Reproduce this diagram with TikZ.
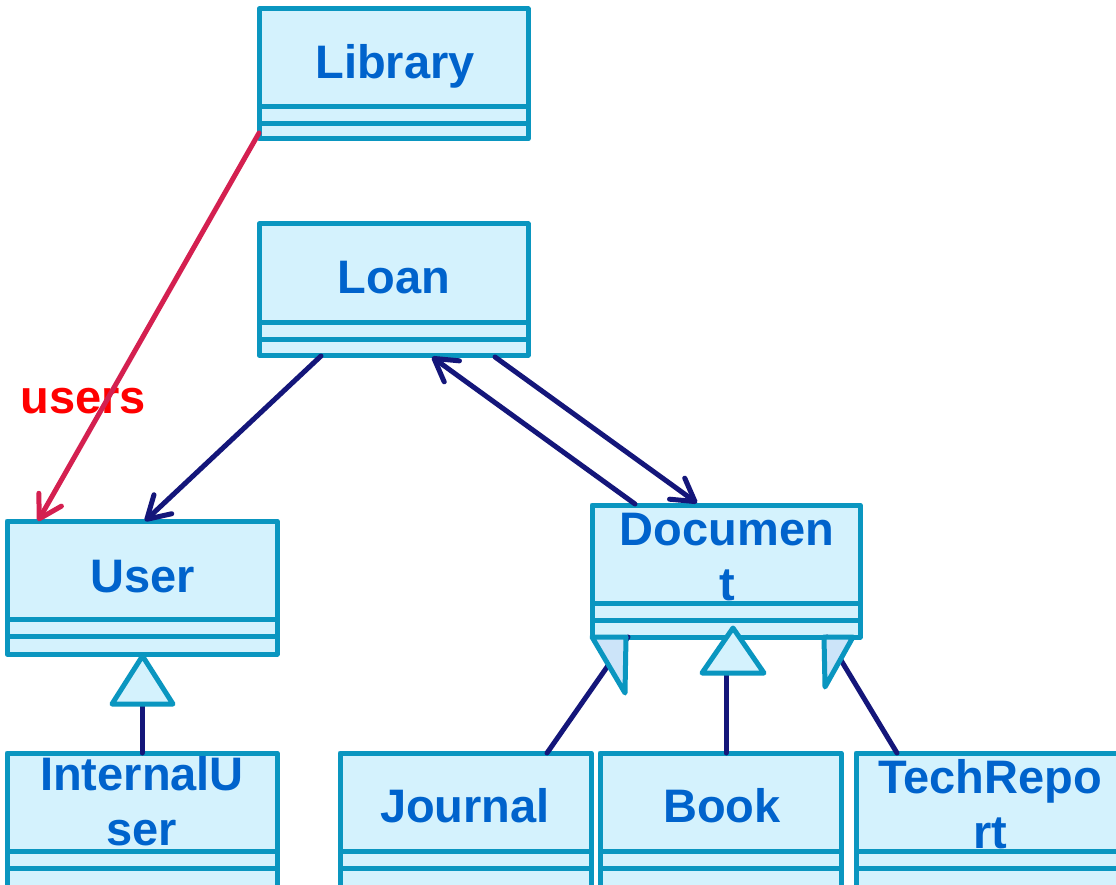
\documentclass[tikz,border=0pt]{standalone}
\usepackage{fontspec}
\setmainfont{Liberation Sans}
\usetikzlibrary{arrows.meta,calc}

\definecolor{clsfill}{HTML}{D4F2FD}
\definecolor{clsline}{HTML}{0A96C0}
\definecolor{clstext}{HTML}{0063CC}
\definecolor{assoc}{HTML}{14167A}
\definecolor{navlink}{HTML}{D42050}
\definecolor{rolered}{HTML}{FF0000}
\definecolor{genfill}{HTML}{CCE4F9}

% two empty compartments (attributes, operations) under the class name
\newcommand\compartments[1]{%
  \draw[sepline] ($(#1.north west)+(0,98)$) -- ($(#1.north east)+(0,98)$);
  \draw[sepline] ($(#1.north west)+(0,115)$) -- ($(#1.north east)+(0,115)$);}

\begin{document}
\begin{tikzpicture}[x=1pt,y=-1pt,
  clsbox/.style={rectangle, draw=clsline, fill=clsfill, line width=5pt,
    line join=round, inner sep=0pt, outer sep=0pt},
  clsname/.style={text=clstext, font=\fontsize{47}{55}\selectfont\bfseries,
    inner sep=0pt, anchor=base, align=center},
  sepline/.style={draw=clsline, line width=5pt},
  assocline/.style={draw=assoc, line width=5pt, line cap=round},
  openhead/.style={-{Straight Barb[length=22pt,width=26pt,round]}},
  gentri/.style={draw=clsline, line width=5pt, line join=round},
]
\clip (0,0) rectangle (1116,885);
\fill[white] (0,0) rectangle (1116,885);

% class boxes
\node[clsbox, minimum width=269, minimum height=130] (lib)   at (393.5,74)  {};
\node[clsbox, minimum width=269, minimum height=131] (loan)  at (393.5,289.5) {};
\node[clsbox, minimum width=270, minimum height=133] (user)  at (142,587.5) {};
\node[clsbox, minimum width=268, minimum height=132] (doc)   at (726,571)   {};
\node[clsbox, minimum width=270, minimum height=152] (iuser) at (142,829)   {};
\node[clsbox, minimum width=251, minimum height=152] (journal) at (465.5,829) {};
\node[clsbox, minimum width=241, minimum height=152] (book)  at (720.5,829) {};
\node[clsbox, minimum width=269, minimum height=152] (tech)  at (990.5,829) {};

\compartments{lib}
\compartments{loan}
\compartments{user}
\compartments{doc}
\compartments{iuser}
\compartments{journal}
\compartments{book}
\compartments{tech}

% class names (multi-line names are placed by their last baseline)
\node[clsname] (libname)   at (395,79)  {Library};
\node[clsname] (loanname)  at (394,294) {Loan};
\node[clsname] (username)  at (143,592) {User};
\node[clsname] (docname)   at (727,600) {Documen\\t};
\node[clsname] (iusername) at (142,845) {InternalU\\ser};
\node[clsname] (jname)     at (465,822) {Journal};
\node[clsname] (bookname)  at (722,822) {Book};
\node[clsname] (techname)  at (990,848) {TechRepo\\rt};

% role name of the Library-User association
\node[text=rolered, font=\fontsize{47}{55}\selectfont\bfseries, inner sep=0pt,
  anchor=base] (userslabel) at (83,413) {users};

% associations
\draw[assocline, draw=navlink, openhead]
  ($(lib.south west)+(0,-6)$) -- ($(user.north west)+(31,0)$);
\draw[assocline, openhead]
  ($(loan.south west)+(62,1)$) -- ($(user.north west)+(138,0)$);
\draw[assocline, openhead]
  ($(doc.north west)+(43,-1)$) -- ($(loan.south west)+(173,2)$);
\draw[assocline, openhead]
  ($(loan.south west)+(236,2)$) -- ($(doc.north west)+(105,-2)$);

% generalizations
\draw[assocline] (iuser.north) -- ($(user.south)+(0,50)$);
\draw[assocline] ($(book.north)+(5.5,0)$) -- ($(doc.south)+(0,36)$);
\draw[assocline] ($(journal.north)+(81.5,0)$) -- ($(doc.south west)+(36,0)$);
\draw[assocline] ($(tech.north)+(-93.5,0)$) -- ($(doc.south east)+(-33,0)$);

\draw[gentri, fill=clsfill] ($(user.south)+(0.5,2)$) -- ($(user.south)+(-30,50)$)
  -- ($(user.south)+(31,50)$) -- cycle;
\draw[gentri, fill=clsfill] ($(doc.south)+(7,-9)$) -- ($(doc.south)+(-24,36)$)
  -- ($(doc.south)+(38,36)$) -- cycle;
\draw[gentri, fill=genfill] (doc.south west) -- ($(doc.south west)+(34,0)$)
  -- ($(doc.south west)+(33,56)$) -- cycle;
\draw[gentri, fill=genfill] ($(doc.south east)+(-36,0)$) -- ($(doc.south east)+(-7,0)$)
  -- ($(doc.south east)+(-35,50)$) -- cycle;
\end{tikzpicture}
\end{document}
